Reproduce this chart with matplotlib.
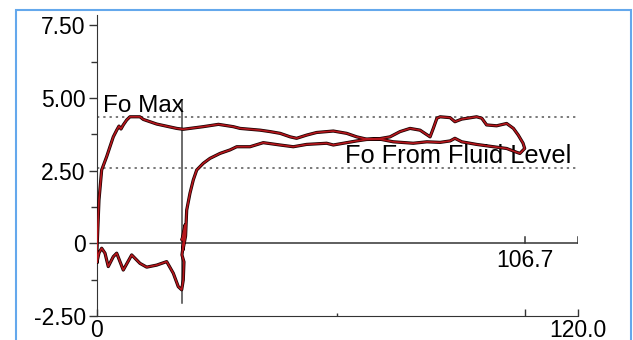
import numpy as np
import matplotlib.pyplot as plt
from matplotlib.patches import Rectangle

plt.rcParams['font.family'] = ['Liberation Sans', 'DejaVu Sans']

# pump card loop: bottom stroke out to the dip, rise, lower load line to the end
lower_pos = [0.0, 0.5, 1.17, 2.0, 2.82, 4.07, 4.92, 6.56, 8.66, 10.73, 12.4, 14.9,
             17.39, 19.04, 20.28, 21.13, 21.53, 21.7, 21.2, 21.96, 21.2, 21.96, 21.45,
             22.1, 22.38, 23.2, 24.03, 24.88, 26.52, 28.19, 30.69, 33.18, 34.86, 38.17,
             41.49, 45.66, 48.98, 52.3, 57.3, 58.96, 61.88, 64.8, 67.3, 70.6, 73.9,
             78.9, 82.3, 85.6, 88.1, 89.3, 91.0, 94.7, 98.9, 102.2, 104.3, 105.5, 106.7]
lower_load = [-0.64, -0.33, -0.17, -0.34, -0.80, -0.46, -0.34, -0.92, -0.40, -0.69, -0.82,
              -0.75, -0.63, -1.03, -1.49, -1.60, -1.26, -0.64, -0.40, 0.39, 0.11, 0.63,
              -0.23, 0.25, 1.14, 1.72, 2.18, 2.52, 2.75, 2.92, 3.09, 3.21, 3.32, 3.32,
              3.46, 3.38, 3.32, 3.40, 3.44, 3.38, 3.45, 3.52, 3.57, 3.58, 3.49, 3.44,
              3.49, 3.47, 3.52, 3.61, 3.49, 3.40, 3.32, 3.26, 3.15, 3.09, 3.26]

# upper load line, from the end of stroke back to zero
upper_pos = [106.7, 106.3, 105.1, 103.9, 102.2, 99.7, 97.2, 96.0, 94.7, 91.0, 89.3, 88.1,
             85.6, 84.8, 83.9, 83.1, 80.6, 78.1, 75.6, 73.1, 70.6, 67.3, 64.8, 62.3,
             58.96, 54.8, 52.3, 49.8, 48.2, 45.7, 43.2, 40.7, 38.2, 35.7, 34.0, 30.3,
             26.5, 21.5, 19.9, 14.9, 11.55, 10.7, 8.23, 7.41, 6.56, 5.99, 5.49, 4.92,
             4.07, 3.24, 2.42, 1.17, 0.5, 0.25, 0.0, 0.0]
upper_load = [3.26, 3.44, 3.72, 3.95, 4.12, 4.04, 4.07, 4.30, 4.35, 4.27, 4.18, 4.32,
              4.35, 4.30, 3.95, 3.66, 3.89, 3.95, 3.84, 3.66, 3.60, 3.58, 3.66, 3.78,
              3.86, 3.81, 3.72, 3.61, 3.66, 3.78, 3.84, 3.89, 3.92, 3.95, 4.01, 4.09,
              4.01, 3.92, 3.95, 4.10, 4.26, 4.35, 4.35, 4.24, 4.07, 3.93, 4.03, 3.89,
              3.66, 3.32, 2.98, 2.52, 1.49, 0.63, -0.23, -0.64]

fo_max = 4.34
fo_fluid = 2.58
stroke_len = 106.7
marker_pos = 21.2
marker_span = (-2.06, 4.93)

y_ticks = [-2.5, 0, 2.5, 5.0, 7.5]
y_labels = ['-2.50', '0', '2.50', '5.00', '7.50']

fig = plt.figure(figsize=(6.33, 3.40), dpi=100)
ax = fig.add_axes([0.1532, 0.0706, 0.7599, 0.8853])

pos = np.array(lower_pos + upper_pos)
load = np.array(lower_load + upper_load)
ax.plot(pos, load, color='#1a0000', lw=2.3, solid_joinstyle='round', zorder=3)
ax.plot(pos, load, color='#b5161c', lw=1.2, solid_joinstyle='round', zorder=4)

# reference lines
for lvl in (fo_max, fo_fluid):
    ax.plot([0, 120], [lvl, lvl], color='#555555', lw=1.1, ls=(0, (1.5, 2.6)), zorder=2)
ax.plot([marker_pos, marker_pos], marker_span, color='#444444', lw=1.1, zorder=2)

# zero line with its own end ticks
ax.axhline(0, color='#333333', lw=1.1, zorder=2)
for xv in (stroke_len, 120):
    ax.plot([xv, xv], [0, 0.2], color='#333333', lw=1.1, zorder=2)

ax.text(1.5, 4.52, 'Fo Max', fontsize=17.5, ha='left', va='baseline')
ax.text(61.9, 2.76, 'Fo From Fluid Level', fontsize=18.3, ha='left', va='baseline')
ax.text(stroke_len, -0.2, '106.7', fontsize=16.5, ha='center', va='top')

ax.set_xlim(0, 120)
ax.set_ylim(-2.5, 7.85)
ax.spines['top'].set_visible(False)
ax.spines['right'].set_visible(False)
ax.spines['left'].set_color('#333333')
ax.spines['bottom'].set_color('#333333')

ax.set_yticks(y_ticks)
ax.set_yticklabels(y_labels)
ax.set_yticks([-1.25, 1.25, 3.75, 6.25], minor=True)
ax.tick_params(axis='y', which='major', direction='out', length=6, width=1,
               labelsize=16.5, pad=2, color='#333333')
ax.tick_params(axis='y', which='minor', direction='out', length=4, width=1, color='#333333')

ax.set_xticks([0, stroke_len, 120])
ax.set_xticklabels(['0', '', '120.0'])
ax.set_xticks([60], minor=True)
ax.tick_params(axis='x', which='major', direction='in', length=5, width=1,
               labelsize=16.5, pad=2, color='#333333')
ax.tick_params(axis='x', which='minor', direction='in', length=2, width=1, color='#333333')

# light blue frame around the panel
fig.patches.append(Rectangle((15.5 / 633, -0.05), (631 - 15.5) / 633, 1.05 - 10 / 340,
                             transform=fig.transFigure, fill=False,
                             edgecolor='#64a8ec', lw=1.5))

fig.savefig('out.png', dpi=100)
